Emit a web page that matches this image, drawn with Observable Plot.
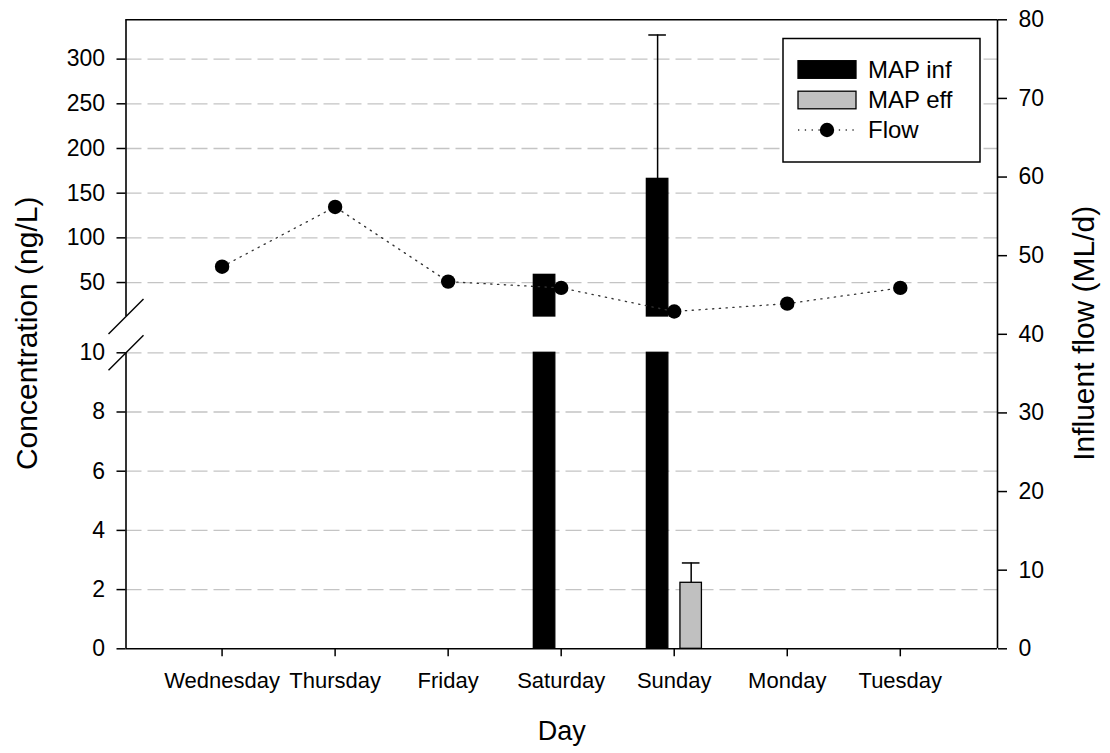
<!DOCTYPE html>
<html><head><meta charset="utf-8">
<script src="https://cdn.jsdelivr.net/npm/d3@7"></script>
<script src="https://cdn.jsdelivr.net/npm/@observablehq/plot@0.6"></script>
<style>
body{margin:0;background:#fff;}
#wrap{position:relative;width:1110px;height:753px;}
#wrap > div{position:absolute;left:0;top:0;}
</style></head><body>
<div id="wrap"><div id="p1"></div><div id="p2"></div><div id="lg"></div></div>
<script>
// ---- data ----
const days = ["Wednesday", "Thursday", "Friday", "Saturday", "Sunday", "Monday", "Tuesday"];
const mapInf = [null, null, null, 58.6, 166, null, null];
const mapInfErr = [null, null, null, null, 161, null, null];
const mapEff = [null, null, null, null, 2.23, null, null];
const mapEffErr = [null, null, null, null, 0.67, null, null];
const flow = [48.6, 56.2, 46.7, 45.9, 42.9, 43.9, 45.9];
const leftTicks = [0, 2, 4, 6, 8, 10, 50, 100, 150, 200, 250, 300];
const rightTicks = [0, 10, 20, 30, 40, 50, 60, 70, 80];
const seriesNames = ["MAP inf", "MAP eff", "Flow"];
const xTitle = "Day";
const yTitle = "Concentration (ng/L)";
const y2Title = "Influent flow (ML/d)";

// ---- layout / style ----
const FONT = "'Liberation Sans', Arial, Helvetica, sans-serif";
const W = 1110, H = 753;
const mL = 125.5, mR = 113, mT = 19.3, mB = 104.7;
const xDom = [-0.85, 6.86];
// broken left axis: lower part 0..10, gap 10..12, upper part 12..344
const brkLo = 10, brkHi = 12, yTop = 344;
const segLo = 296, segGap = 36.3, segHi = 296.7; // relative heights of the three parts
const brk = v => v <= brkLo ? v * segLo / brkLo
  : v <= brkHi ? segLo + (v - brkLo) * segGap / (brkHi - brkLo)
  : segLo + segGap + (v - brkHi) * segHi / (yTop - brkHi);
const INF = "#000000", EFF = "#c0c0c0";
const hw = 0.095, capHalf = 0.078;
const series = [
  {vals: mapInf, errs: mapInfErr, fill: INF, off: -0.147},
  {vals: mapEff, errs: mapEffErr, fill: EFF, off: 0.150}
];

const barPieces = [], errData = [];
series.forEach(s => {
  s.vals.forEach((v, i) => {
    if (v == null) return;
    const xc = i + s.off;
    barPieces.push({x1: xc - hw, x2: xc + hw, y1: 0, y2: Math.min(v, brkLo), fill: s.fill});
    if (v > brkHi) barPieces.push({x1: xc - hw, x2: xc + hw, y1: brkHi, y2: v, fill: s.fill});
    const e = s.errs[i];
    if (e != null && e > 0) errData.push({x: xc, v, top: v + e});
  });
});
const flowData = flow.map((f, i) => ({i, f}));
const gridVals = leftTicks.filter(d => d > 0);

// slash symbol for the axis-break marks
const slash = {draw(ctx, size) { const h = Math.sqrt(size / Math.PI); ctx.moveTo(-h, h); ctx.lineTo(h, -h); }};

const plot1 = Plot.plot({
  width: W, height: H,
  marginLeft: mL, marginRight: mR, marginTop: mT, marginBottom: mB,
  style: {fontFamily: FONT, color: "black", background: "white", overflow: "visible"},
  x: {domain: xDom},
  y: {transform: brk},
  marks: [
    Plot.ruleY(gridVals, {stroke: "#c4c4c4", strokeWidth: 1.3, strokeDasharray: "16,6"}),
    Plot.rect(barPieces, {x1: "x1", x2: "x2", y1: "y1", y2: "y2", fill: "fill", stroke: "black", strokeWidth: 1.3}),
    Plot.ruleX(errData, {x: "x", y1: "v", y2: "top", stroke: "black", strokeWidth: 1.5}),
    Plot.ruleY(errData, {y: "top", x1: d => d.x - capHalf, x2: d => d.x + capHalf, stroke: "black", strokeWidth: 1.5}),
    Plot.ruleY([0, yTop], {stroke: "black", strokeWidth: 1.6}),
    Plot.ruleX([xDom[1]], {stroke: "black", strokeWidth: 1.6}),
    Plot.ruleX([[0, brkLo], [brkHi, yTop]], {x: () => xDom[0], y1: d => d[0], y2: d => d[1], stroke: "black", strokeWidth: 1.6}),
    Plot.dot([brkLo, brkHi], {x: () => xDom[0], y: d => d, symbol: slash, r: 17.5, fill: "none", stroke: "black", strokeWidth: 1.5}),
    Plot.axisY(leftTicks, {anchor: "left", tickSize: 9, tickPadding: 12, fontSize: 23, strokeWidth: 1.5, tickFormat: d => String(d), label: null}),
    Plot.axisX(days.map((d, i) => i), {anchor: "bottom", tickSize: 8, tickPadding: 15.5, fontSize: 22, strokeWidth: 1.5, tickFormat: i => days[i], label: null}),
    Plot.text([xTitle], {text: d => d, frameAnchor: "bottom", lineAnchor: "top", dy: 72, fontSize: 27}),
    Plot.text([yTitle], {text: d => d, frameAnchor: "left", rotate: -90, lineAnchor: "top", textAnchor: "middle", dx: -110, dy: -1, fontSize: 30}),
    Plot.text([y2Title], {text: d => d, frameAnchor: "right", rotate: -90, lineAnchor: "top", textAnchor: "middle", dx: 75, dy: -1, fontSize: 30})
  ]
});
document.getElementById("p1").appendChild(plot1);

const plot2 = Plot.plot({
  width: W, height: H,
  marginLeft: mL, marginRight: mR, marginTop: mT, marginBottom: mB,
  style: {fontFamily: FONT, color: "black", background: "transparent", overflow: "visible"},
  x: {domain: xDom, axis: null},
  y: {domain: [0, 80]},
  marks: [
    Plot.line(flowData, {x: "i", y: "f", stroke: "#333", strokeWidth: 1.3, strokeDasharray: "1.3,5.5"}),
    Plot.dot(flowData, {x: "i", y: "f", r: 7.2, fill: "black", stroke: "none"}),
    Plot.axisY(rightTicks, {anchor: "right", tickSize: 9, tickPadding: 12, fontSize: 23, strokeWidth: 1.5, tickFormat: d => String(d), label: null})
  ]
});
document.getElementById("p2").appendChild(plot2);

// legend
{
  const lg = d3.select("#lg").append("svg").attr("width", W).attr("height", H)
    .style("font-family", FONT).style("overflow", "visible");
  lg.append("rect").attr("x", 783).attr("y", 38.5).attr("width", 197).attr("height", 123.5)
    .attr("fill", "white").attr("stroke", "black").attr("stroke-width", 1.5);
  const cy = [69.5, 100, 130];
  const sw0 = 798, sw1 = 856, tx = 868;
  lg.append("rect").attr("x", sw0).attr("y", cy[0] - 8.8).attr("width", sw1 - sw0).attr("height", 17.6)
    .attr("fill", INF).attr("stroke", "black").attr("stroke-width", 1.3);
  lg.append("rect").attr("x", sw0).attr("y", cy[1] - 8.8).attr("width", sw1 - sw0).attr("height", 17.6)
    .attr("fill", EFF).attr("stroke", "black").attr("stroke-width", 1.3);
  lg.append("line").attr("x1", sw0).attr("x2", sw1).attr("y1", cy[2]).attr("y2", cy[2])
    .attr("stroke", "#333").attr("stroke-width", 1.3).attr("stroke-dasharray", "1.3,5.5");
  lg.append("circle").attr("cx", (sw0 + sw1) / 2).attr("cy", cy[2]).attr("r", 7.2).attr("fill", "black");
  seriesNames.forEach((n, k) => {
    lg.append("text").attr("x", tx).attr("y", cy[k]).attr("dy", "0.35em")
      .attr("font-size", 24).attr("fill", "black").text(n);
  });
}
</script>
</body></html>
